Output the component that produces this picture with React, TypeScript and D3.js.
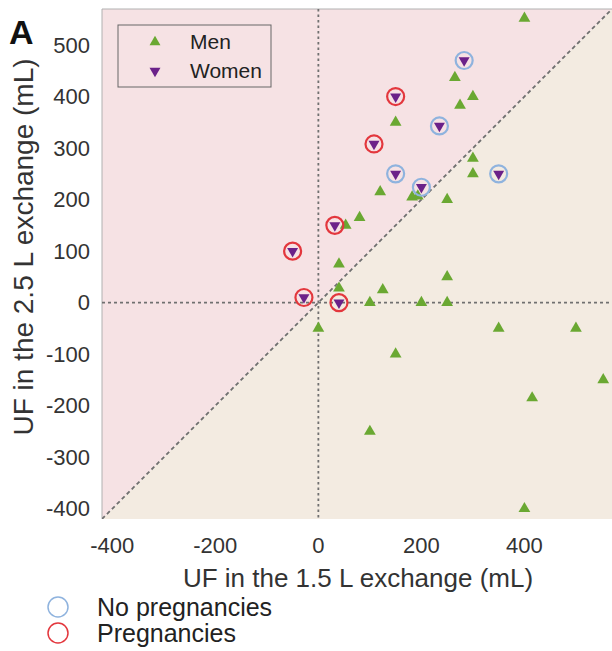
import React from "react";
import * as d3 from "d3";

const xTicks = [-400, -200, 0, 200, 400];
const yTicks = [-400, -300, -200, -100, 0, 100, 200, 300, 400, 500];

const menX = [400, 265, 300, 275, 150, 300, 300, 120, 182, 193, 250, 80, 53, 40, 250, 40, 125, 100, 200, 250, 0, 150, 350, 500, 553, 415, 400, 100];
const menY = [552, 437, 400, 383, 350, 280, 250, 215, 205, 207, 200, 165, 150, 75, 50, 28, 25, 0, 0, 0, -50, -100, -50, -50, -150, -185, -400, -250];

const womenX = [283, 150, 235, 108, 150, 200, 350, 32, -50, -28, 40];
const womenY = [470, 400, 343, 308, 250, 224, 250, 150, 100, 10, 0];
const womenPregnancy = ["no", "yes", "no", "yes", "no", "no", "no", "yes", "yes", "yes", "yes"];

const legendLabels = ["Men", "Women"];
const circleLegend = ["No pregnancies", "Pregnancies"];

const W = 612, H = 651;
const L = 102, T = 9, R = 612, B = 519;
const FONT = "'Liberation Sans', Arial, Helvetica, sans-serif";

const GREEN = "#6aa832";
const PURPLE = "#6b2189";
const RED = "#e3373d";
const BLUE = "#8fb3de";

export default function App() {
  const x = d3.scaleLinear().domain([-420, 570]).range([L, R]);
  const y = d3.scaleLinear().domain([-420, 570]).range([B, T]);
  const tri = d3.symbol().type(d3.symbolTriangle).size(60)();
  const triS = d3.symbol().type(d3.symbolTriangle).size(52)();

  const x0 = x.domain()[0], x1 = x.domain()[1];
  const y0 = y.domain()[0], y1 = y.domain()[1];
  const pinkPts = [[x(x0), y(y0)], [x(x0), y(y1)], [x(x1), y(y1)]];
  const beigePts = [[x(x0), y(y0)], [x(x1), y(y1)], [x(x1), y(y0)]];
  const poly = (p: number[][]) => p.map((q) => q.join(",")).join(" ");

  return (
    <svg width={W} height={H} style={{ position: "absolute", left: 0, top: 0, background: "#fff" }} fontFamily={FONT}>
      <defs>
        <clipPath id="plotclip">
          <rect x={L} y={T} width={R - L} height={B - T} />
        </clipPath>
      </defs>
      <polygon points={poly(beigePts)} fill="#f3ebe1" />
      <polygon points={poly(pinkPts)} fill="#f6e2e4" />
      <line x1={L} x2={R} y1={T} y2={T} stroke="#b0b0b0" strokeWidth={1} />
      <line x1={L} x2={L} y1={T} y2={B} stroke="#b0b0b0" strokeWidth={1} />

      <g clipPath="url(#plotclip)">
        <line x1={x(0)} x2={x(0)} y1={T} y2={B} stroke="#707070" strokeWidth={1.8} strokeDasharray="2.5,3" />
        <line x1={L} x2={R} y1={y(0)} y2={y(0)} stroke="#707070" strokeWidth={1.8} strokeDasharray="3,3" />
        <line x1={x(x0)} y1={y(x0)} x2={x(x1)} y2={y(x1)} stroke="#707070" strokeWidth={1.8} strokeDasharray="4,3" />

        {menX.map((v, i) => (
          <path key={"m" + i} d={tri} transform={`translate(${x(v)},${y(menY[i])})`} fill={GREEN} />
        ))}
        {womenX.map((v, i) => (
          <path key={"w" + i} d={triS} transform={`translate(${x(v)},${y(womenY[i])}) rotate(180)`} fill={PURPLE} />
        ))}
        {womenX.map((v, i) => (
          <circle key={"c" + i} cx={x(v)} cy={y(womenY[i])} r={8.5} fill="none"
            stroke={womenPregnancy[i] === "yes" ? RED : BLUE} strokeWidth={2.2} />
        ))}
      </g>

      {/* legend box */}
      <rect x={118} y={25} width={153} height={62} fill="#f6e2e4" stroke="#666" strokeWidth={1} />
      <path d={triS} transform="translate(155,42)" fill={GREEN} />
      <path d={triS} transform="translate(155,71) rotate(180)" fill={PURPLE} />
      <text x={190} y={42} dy="0.35em" fontSize={21} fill="#222">{legendLabels[0]}</text>
      <text x={190} y={71} dy="0.35em" fontSize={21} fill="#222">{legendLabels[1]}</text>

      {/* ticks */}
      {xTicks.map((t) => (
        <text key={"xt" + t} x={x(t)} y={553} textAnchor="middle" fontSize={22} fill="#333">{t}</text>
      ))}
      {yTicks.map((t) => (
        <text key={"yt" + t} x={90} y={y(t)} dy="0.35em" textAnchor="end" fontSize={22} fill="#333">{t}</text>
      ))}

      <text x={358} y={587} textAnchor="middle" fontSize={26} fill="#333">UF in the 1.5 L exchange (mL)</text>
      <text transform="translate(33,247) rotate(-90)" textAnchor="middle" fontSize={28} fill="#333">UF in the 2.5 L exchange (mL)</text>

      <text x={9} y={44} fontSize={34} fontWeight="bold" fill="#111">A</text>

      <circle cx={58} cy={607} r={10} fill="none" stroke={BLUE} strokeWidth={1.5} />
      <circle cx={58} cy={633} r={10} fill="none" stroke={RED} strokeWidth={1.5} />
      <text x={97} y={607} dy="0.35em" fontSize={25} fill="#222">{circleLegend[0]}</text>
      <text x={97} y={633} dy="0.35em" fontSize={25} fill="#222">{circleLegend[1]}</text>
    </svg>
  );
}
